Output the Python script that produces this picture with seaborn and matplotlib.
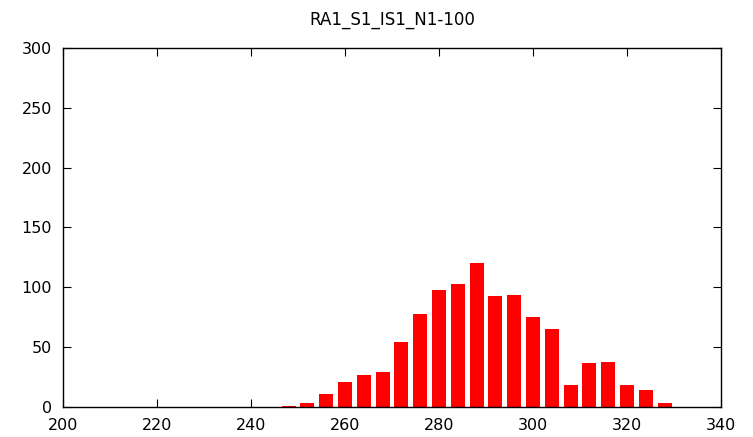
import matplotlib
matplotlib.use("Agg")
import matplotlib.pyplot as plt
import seaborn as sns
import pandas as pd

# Histogram bins (bin centres) and counts
bin_centers = [248, 252, 256, 260, 264, 268, 272, 276, 280, 284, 288,
               292, 296, 300, 304, 308, 312, 316, 320, 324, 328]
counts = [1, 3, 11, 21, 27, 29, 54, 78, 98, 103, 120,
          93, 94, 75, 65, 18, 37, 38, 18, 14, 3]

title = "RA1_S1_IS1_N1-100"
x_ticks = [200, 220, 240, 260, 280, 300, 320, 340]
y_ticks = [0, 50, 100, 150, 200, 250, 300]

df = pd.DataFrame({"value": bin_centers, "count": counts})

sns.set_style("white")
plt.rcParams["font.family"] = ["DejaVu Sans"]

fig = plt.figure(figsize=(7.53, 4.37), dpi=100)
ax = fig.add_axes([63 / 753, 1 - 407 / 437, (721 - 63) / 753, (407 - 48) / 437])

sns.barplot(data=df, x="value", y="count", native_scale=True, width=0.75,
            color="#ff0000", saturation=1, linewidth=0, ax=ax)

ax.set_xlim(200, 340)
ax.set_ylim(0, 300)
ax.set_xticks(x_ticks)
ax.set_yticks(y_ticks)
ax.set_xticklabels([str(t) for t in x_ticks])
ax.set_yticklabels([str(t) for t in y_ticks])
ax.set_xlabel("")
ax.set_ylabel("")

for s in ax.spines.values():
    s.set_visible(True)
    s.set_color("black")
    s.set_linewidth(1.0)

ax.tick_params(axis="both", which="major", direction="in", length=6, width=0.8,
               colors="black", labelsize=11.5, top=True, right=True,
               bottom=True, left=True)
ax.tick_params(axis="x", pad=8)
ax.tick_params(axis="y", pad=8)

fig.text((63 + 721) / 2 / 753, 1 - 20 / 437, title, ha="center", va="center",
         fontsize=12, color="black")

fig.savefig("out.png", dpi=100)
